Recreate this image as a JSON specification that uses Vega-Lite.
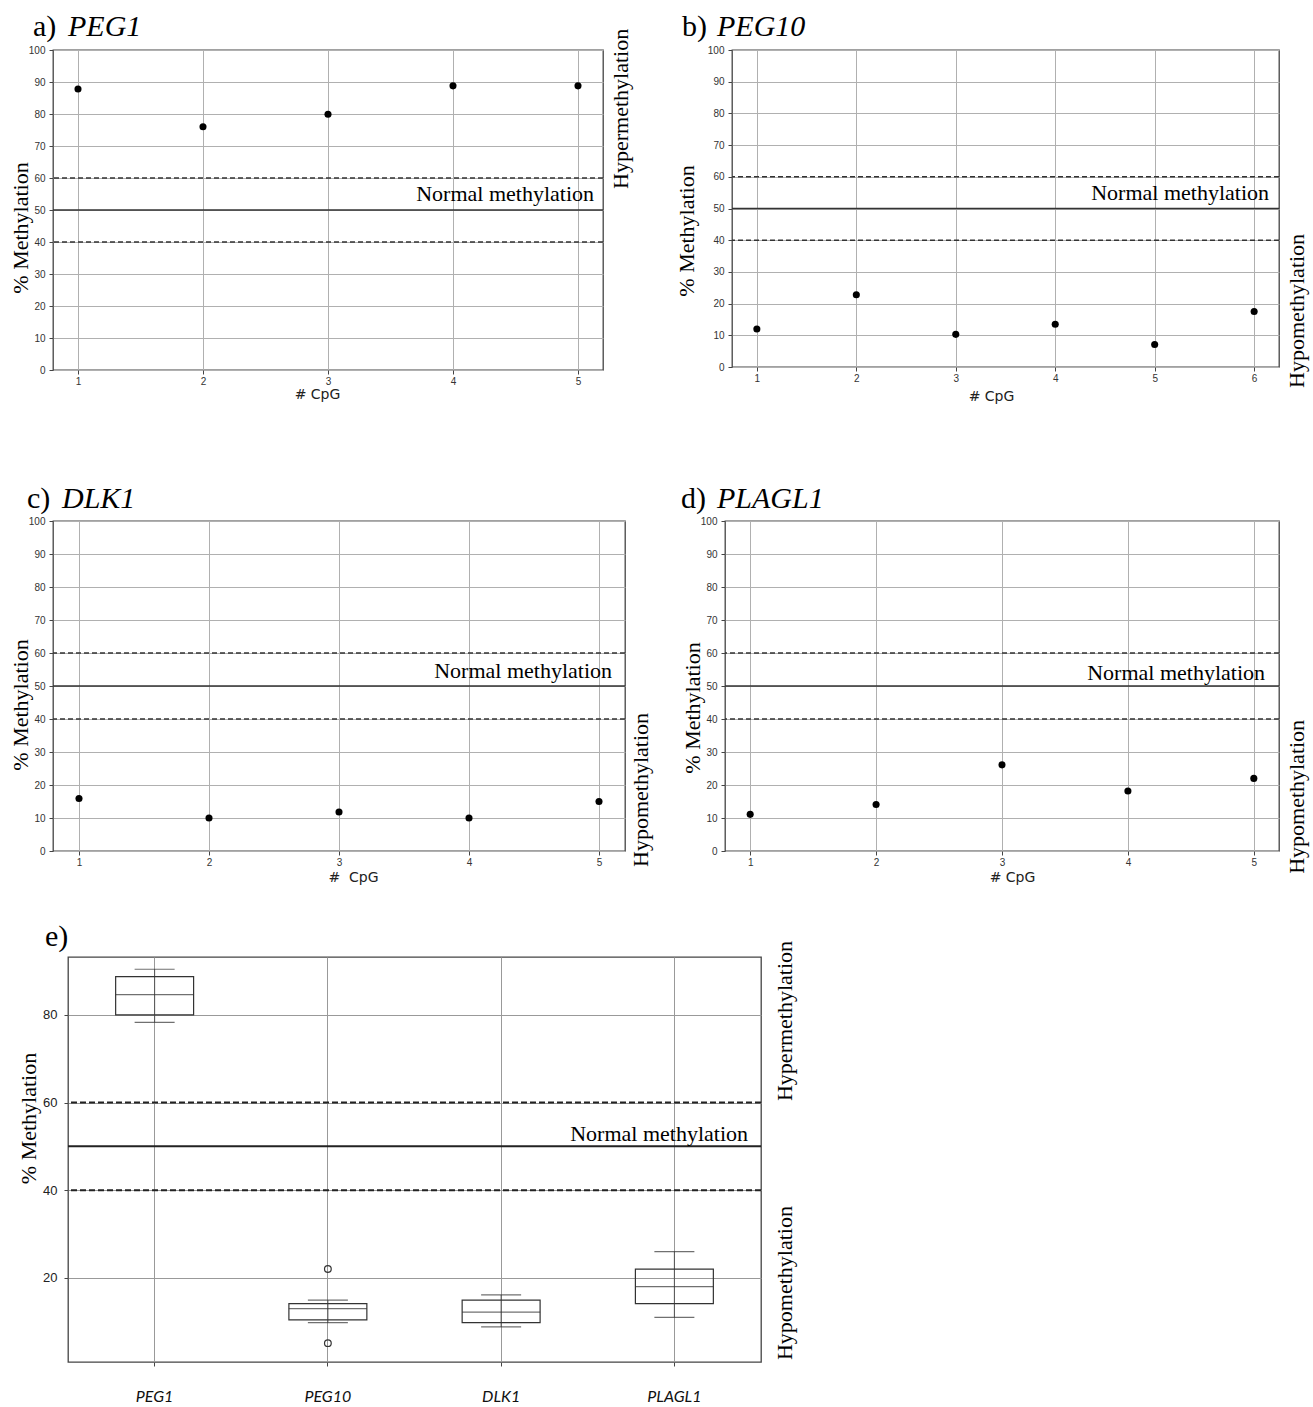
{
  "$schema": "https://vega.github.io/schema/vega-lite/v6.json",
  "padding": {"left": 8, "top": 11, "right": 5, "bottom": 5},
  "background": "white",
  "config": {
    "view": {"stroke": "#444", "strokeWidth": 1.3},
    "axis": {"domain": false, "grid": true, "gridColor": "#b0b0b0", "gridWidth": 1, "tickColor": "#444", "tickSize": 4, "labelFont": "Liberation Sans", "labelFontSize": 10, "labelColor": "#333", "labelFlush": false, "labelOverlap": false, "titleFont": "Liberation Serif", "titleFontSize": 22, "titleFontWeight": "normal", "titleColor": "#000"},
    "axisX": {"labelPadding": 2, "titleFont": "DejaVu Sans", "titleFontSize": 14, "titleColor": "#222", "labelAngle": 0},
    "axisY": {"labelPadding": 4},
    "text": {"font": "Liberation Serif", "color": "#000"}
  },
  "datasets": {
    "eBoxes": [
      {"gene": "PEG1", "lower": 78.3, "q1": 80.0, "median": 84.6, "q3": 88.7, "upper": 90.4},
      {"gene": "PEG10", "lower": 9.8, "q1": 10.4, "median": 13.0, "q3": 14.1, "upper": 14.9},
      {"gene": "DLK1", "lower": 8.8, "q1": 9.8, "median": 12.2, "q3": 14.9, "upper": 16.1},
      {"gene": "PLAGL1", "lower": 11.0, "q1": 14.1, "median": 18.0, "q3": 22.0, "upper": 26.0}
    ],
    "eOutliers": [
      {"gene": "PEG10", "value": 22.0},
      {"gene": "PEG10", "value": 5.1}
    ]
  },
  "vconcat": [
    {
      "vconcat": [
        {
          "hconcat": [
            {
              "width": 550, "height": 320,
              "layer": [
                {
                  "data": {"values": [{"cpg": 1, "meth": 87.8}, {"cpg": 2, "meth": 76.0}, {"cpg": 3, "meth": 79.9}, {"cpg": 4, "meth": 88.8}, {"cpg": 5, "meth": 88.8}]},
                  "mark": {"type": "circle", "size": 50, "color": "#000", "opacity": 1},
                  "encoding": {
                    "x": {"field": "cpg", "type": "quantitative", "scale": {"domain": [0.8, 5.2], "nice": false, "zero": false}, "axis": {"values": [1, 2, 3, 4, 5], "format": "d", "title": "# CpG", "titleX": 264, "titleY": 28, "titleBaseline": "alphabetic", "titleAlign": "center"}},
                    "y": {"field": "meth", "type": "quantitative", "scale": {"domain": [0, 100], "nice": false, "zero": false}, "axis": {"values": [0, 10, 20, 30, 40, 50, 60, 70, 80, 90, 100], "tickCount": 11, "title": "% Methylation", "titleX": -33, "titleY": 177.5, "titleBaseline": "middle", "titleAlign": "center"}}
                  }
                },
                {"data": {"values": [{}]}, "mark": {"type": "rule", "color": "#333", "strokeWidth": 1.5, "strokeDash": [5, 3]}, "encoding": {"y": {"datum": 40}}},
                {"data": {"values": [{}]}, "mark": {"type": "rule", "color": "#333", "strokeWidth": 1.5, "strokeDash": [5, 3]}, "encoding": {"y": {"datum": 60}}},
                {"data": {"values": [{}]}, "mark": {"type": "rule", "color": "#333", "strokeWidth": 1.6}, "encoding": {"y": {"datum": 50}}},
                {"data": {"values": [{"label": "a)"}]}, "mark": {"type": "text", "fontSize": 30, "align": "left", "baseline": "alphabetic", "dx": -20, "dy": -14}, "encoding": {"x": {"datum": 0.8}, "y": {"datum": 100}, "text": {"field": "label"}}},
                {"data": {"values": [{"label": "PEG1"}]}, "mark": {"type": "text", "fontSize": 30, "fontStyle": "italic", "align": "left", "baseline": "alphabetic", "dx": 15, "dy": -14}, "encoding": {"x": {"datum": 0.8}, "y": {"datum": 100}, "text": {"field": "label"}}},
                {"data": {"values": [{"label": "Normal methylation"}]}, "mark": {"type": "text", "fontSize": 22, "align": "right", "baseline": "alphabetic", "dx": -9, "dy": -9}, "encoding": {"x": {"datum": 5.2}, "y": {"datum": 50}, "text": {"field": "label"}}},
                {"data": {"values": [{"label": "Hypermethylation"}]}, "mark": {"type": "text", "fontSize": 22, "angle": 270, "align": "center", "baseline": "middle", "dy": 18}, "encoding": {"x": {"datum": 5.2}, "y": {"datum": 81.6}, "text": {"field": "label"}}}
              ]
            },
            {
              "width": 547, "height": 317,
              "layer": [
                {
                  "data": {"values": [{"cpg": 1, "meth": 12.0}, {"cpg": 2, "meth": 22.8}, {"cpg": 3, "meth": 10.3}, {"cpg": 4, "meth": 13.5}, {"cpg": 5, "meth": 7.1}, {"cpg": 6, "meth": 17.5}]},
                  "mark": {"type": "circle", "size": 50, "color": "#000", "opacity": 1},
                  "encoding": {
                    "x": {"field": "cpg", "type": "quantitative", "scale": {"domain": [0.75, 6.25], "nice": false, "zero": false}, "axis": {"values": [1, 2, 3, 4, 5, 6], "format": "d", "title": "# CpG", "titleX": 259, "titleY": 33, "titleBaseline": "alphabetic", "titleAlign": "center"}},
                    "y": {"field": "meth", "type": "quantitative", "scale": {"domain": [0, 100], "nice": false, "zero": false}, "axis": {"values": [0, 10, 20, 30, 40, 50, 60, 70, 80, 90, 100], "tickCount": 11, "title": "% Methylation", "titleX": -46, "titleY": 180.5, "titleBaseline": "middle", "titleAlign": "center"}}
                  }
                },
                {"data": {"values": [{}]}, "mark": {"type": "rule", "color": "#333", "strokeWidth": 1.5, "strokeDash": [5, 3]}, "encoding": {"y": {"datum": 40}}},
                {"data": {"values": [{}]}, "mark": {"type": "rule", "color": "#333", "strokeWidth": 1.5, "strokeDash": [5, 3]}, "encoding": {"y": {"datum": 60}}},
                {"data": {"values": [{}]}, "mark": {"type": "rule", "color": "#333", "strokeWidth": 1.6}, "encoding": {"y": {"datum": 50}}},
                {"data": {"values": [{"label": "b)"}]}, "mark": {"type": "text", "fontSize": 30, "align": "left", "baseline": "alphabetic", "dx": -50, "dy": -14}, "encoding": {"x": {"datum": 0.75}, "y": {"datum": 100}, "text": {"field": "label"}}},
                {"data": {"values": [{"label": "PEG10"}]}, "mark": {"type": "text", "fontSize": 30, "fontStyle": "italic", "align": "left", "baseline": "alphabetic", "dx": -15, "dy": -14}, "encoding": {"x": {"datum": 0.75}, "y": {"datum": 100}, "text": {"field": "label"}}},
                {"data": {"values": [{"label": "Normal methylation"}]}, "mark": {"type": "text", "fontSize": 22, "align": "right", "baseline": "alphabetic", "dx": -10, "dy": -9}, "encoding": {"x": {"datum": 6.25}, "y": {"datum": 50}, "text": {"field": "label"}}},
                {"data": {"values": [{"label": "Hypomethylation"}]}, "mark": {"type": "text", "fontSize": 22, "angle": 270, "align": "center", "baseline": "middle", "dy": 18}, "encoding": {"x": {"datum": 6.25}, "y": {"datum": 17.7}, "text": {"field": "label"}}}
              ]
            }
          ],
          "spacing": 129,
          "bounds": "flush"
        },
        {
          "hconcat": [
            {
              "width": 572, "height": 330,
              "layer": [
                {
                  "data": {"values": [{"cpg": 1, "meth": 15.9}, {"cpg": 2, "meth": 10.0}, {"cpg": 3, "meth": 11.8}, {"cpg": 4, "meth": 10.0}, {"cpg": 5, "meth": 15.0}]},
                  "mark": {"type": "circle", "size": 50, "color": "#000", "opacity": 1},
                  "encoding": {
                    "x": {"field": "cpg", "type": "quantitative", "scale": {"domain": [0.8, 5.2], "nice": false, "zero": false}, "axis": {"values": [1, 2, 3, 4, 5], "format": "d", "title": "#\u00a0 CpG", "titleX": 300, "titleY": 30, "titleBaseline": "alphabetic", "titleAlign": "center"}},
                    "y": {"field": "meth", "type": "quantitative", "scale": {"domain": [0, 100], "nice": false, "zero": false}, "axis": {"values": [0, 10, 20, 30, 40, 50, 60, 70, 80, 90, 100], "tickCount": 11, "title": "% Methylation", "titleX": -33, "titleY": 183.5, "titleBaseline": "middle", "titleAlign": "center"}}
                  }
                },
                {"data": {"values": [{}]}, "mark": {"type": "rule", "color": "#333", "strokeWidth": 1.5, "strokeDash": [5, 3]}, "encoding": {"y": {"datum": 40}}},
                {"data": {"values": [{}]}, "mark": {"type": "rule", "color": "#333", "strokeWidth": 1.5, "strokeDash": [5, 3]}, "encoding": {"y": {"datum": 60}}},
                {"data": {"values": [{}]}, "mark": {"type": "rule", "color": "#333", "strokeWidth": 1.6}, "encoding": {"y": {"datum": 50}}},
                {"data": {"values": [{"label": "c)"}]}, "mark": {"type": "text", "fontSize": 30, "align": "left", "baseline": "alphabetic", "dx": -26, "dy": -13}, "encoding": {"x": {"datum": 0.8}, "y": {"datum": 100}, "text": {"field": "label"}}},
                {"data": {"values": [{"label": "DLK1"}]}, "mark": {"type": "text", "fontSize": 30, "fontStyle": "italic", "align": "left", "baseline": "alphabetic", "dx": 9, "dy": -13}, "encoding": {"x": {"datum": 0.8}, "y": {"datum": 100}, "text": {"field": "label"}}},
                {"data": {"values": [{"label": "Normal methylation"}]}, "mark": {"type": "text", "fontSize": 22, "align": "right", "baseline": "alphabetic", "dx": -13, "dy": -8}, "encoding": {"x": {"datum": 5.2}, "y": {"datum": 50}, "text": {"field": "label"}}},
                {"data": {"values": [{"label": "Hypomethylation"}]}, "mark": {"type": "text", "fontSize": 22, "angle": 270, "align": "center", "baseline": "middle", "dy": 16}, "encoding": {"x": {"datum": 5.2}, "y": {"datum": 18.5}, "text": {"field": "label"}}}
              ]
            },
            {
              "width": 554, "height": 330,
              "layer": [
                {
                  "data": {"values": [{"cpg": 1, "meth": 11.1}, {"cpg": 2, "meth": 14.1}, {"cpg": 3, "meth": 26.1}, {"cpg": 4, "meth": 18.2}, {"cpg": 5, "meth": 22.0}]},
                  "mark": {"type": "circle", "size": 50, "color": "#000", "opacity": 1},
                  "encoding": {
                    "x": {"field": "cpg", "type": "quantitative", "scale": {"domain": [0.8, 5.2], "nice": false, "zero": false}, "axis": {"values": [1, 2, 3, 4, 5], "format": "d", "title": "# CpG", "titleX": 287, "titleY": 30, "titleBaseline": "alphabetic", "titleAlign": "center"}},
                    "y": {"field": "meth", "type": "quantitative", "scale": {"domain": [0, 100], "nice": false, "zero": false}, "axis": {"values": [0, 10, 20, 30, 40, 50, 60, 70, 80, 90, 100], "tickCount": 11, "title": "% Methylation", "titleX": -33, "titleY": 186.5, "titleBaseline": "middle", "titleAlign": "center"}}
                  }
                },
                {"data": {"values": [{}]}, "mark": {"type": "rule", "color": "#333", "strokeWidth": 1.5, "strokeDash": [5, 3]}, "encoding": {"y": {"datum": 40}}},
                {"data": {"values": [{}]}, "mark": {"type": "rule", "color": "#333", "strokeWidth": 1.5, "strokeDash": [5, 3]}, "encoding": {"y": {"datum": 60}}},
                {"data": {"values": [{}]}, "mark": {"type": "rule", "color": "#333", "strokeWidth": 1.6}, "encoding": {"y": {"datum": 50}}},
                {"data": {"values": [{"label": "d)"}]}, "mark": {"type": "text", "fontSize": 30, "align": "left", "baseline": "alphabetic", "dx": -44, "dy": -13}, "encoding": {"x": {"datum": 0.8}, "y": {"datum": 100}, "text": {"field": "label"}}},
                {"data": {"values": [{"label": "PLAGL1"}]}, "mark": {"type": "text", "fontSize": 30, "fontStyle": "italic", "align": "left", "baseline": "alphabetic", "dx": -8, "dy": -13}, "encoding": {"x": {"datum": 0.8}, "y": {"datum": 100}, "text": {"field": "label"}}},
                {"data": {"values": [{"label": "Normal methylation"}]}, "mark": {"type": "text", "fontSize": 22, "align": "right", "baseline": "alphabetic", "dx": -14, "dy": -6}, "encoding": {"x": {"datum": 5.2}, "y": {"datum": 50}, "text": {"field": "label"}}},
                {"data": {"values": [{"label": "Hypomethylation"}]}, "mark": {"type": "text", "fontSize": 22, "angle": 270, "align": "center", "baseline": "middle", "dy": 18}, "encoding": {"x": {"datum": 5.2}, "y": {"datum": 16.4}, "text": {"field": "label"}}}
              ]
            }
          ],
          "spacing": 100,
          "bounds": "flush"
        }
      ],
      "spacing": 79
    },
    {
      "hconcat": [
        {
          "width": 15, "height": 10,
          "data": {"values": []},
          "mark": "point",
          "view": {"stroke": null}
        },
        {
          "width": 693, "height": 405,
          "layer": [
            {
              "data": {"name": "eBoxes"},
              "mark": {"type": "rule", "color": "#555", "strokeWidth": 1},
              "encoding": {
                "x": {"field": "gene", "type": "nominal", "scale": {"domain": ["PEG1", "PEG10", "DLK1", "PLAGL1"], "paddingInner": 0, "paddingOuter": 0}, "axis": {"title": null, "labelAngle": 0, "labelFont": "Lato", "labelFontStyle": "italic", "labelFontSize": 16, "labelColor": "#111", "labelPadding": 22, "gridColor": "#999"}},
                "y": {"field": "lower", "type": "quantitative", "scale": {"domain": [0.8, 93.2], "nice": false, "zero": false}, "axis": {"values": [20, 40, 60, 80], "title": "% Methylation", "titleX": -40, "titleY": 161, "titleBaseline": "middle", "titleAlign": "center", "labelFontSize": 13, "labelColor": "#222", "labelPadding": 7, "gridColor": "#999"}},
                "y2": {"field": "upper"}
              }
            },
            {"data": {"values": [{}]}, "mark": {"type": "rule", "color": "#222", "strokeWidth": 2, "strokeDash": [6, 3]}, "encoding": {"y": {"datum": 40}}},
            {"data": {"values": [{}]}, "mark": {"type": "rule", "color": "#222", "strokeWidth": 2, "strokeDash": [6, 3]}, "encoding": {"y": {"datum": 60}}},
            {"data": {"values": [{}]}, "mark": {"type": "rule", "color": "#222", "strokeWidth": 2}, "encoding": {"y": {"datum": 50}}},
            {
              "data": {"name": "eBoxes"},
              "mark": {"type": "bar", "filled": false, "color": "#333", "strokeWidth": 1.2, "width": {"band": 0.45}},
              "encoding": {"x": {"field": "gene", "type": "nominal"}, "y": {"field": "q1", "type": "quantitative"}, "y2": {"field": "q3"}}
            },
            {
              "data": {"name": "eBoxes"},
              "mark": {"type": "tick", "color": "#333", "size": 78, "thickness": 1.2},
              "encoding": {"x": {"field": "gene", "type": "nominal"}, "y": {"field": "median", "type": "quantitative"}}
            },
            {
              "data": {"name": "eBoxes"},
              "mark": {"type": "tick", "color": "#333", "size": 40, "thickness": 1.2},
              "encoding": {"x": {"field": "gene", "type": "nominal"}, "y": {"field": "lower", "type": "quantitative"}}
            },
            {
              "data": {"name": "eBoxes"},
              "mark": {"type": "tick", "color": "#333", "size": 40, "thickness": 1.2},
              "encoding": {"x": {"field": "gene", "type": "nominal"}, "y": {"field": "upper", "type": "quantitative"}}
            },
            {
              "data": {"name": "eOutliers"},
              "mark": {"type": "point", "filled": false, "color": "#333", "size": 45, "strokeWidth": 1.2, "opacity": 1},
              "encoding": {"x": {"field": "gene", "type": "nominal"}, "y": {"field": "value", "type": "quantitative"}}
            },
            {"data": {"values": [{"label": "e)"}]}, "mark": {"type": "text", "fontSize": 30, "align": "left", "baseline": "alphabetic", "dx": -23, "dy": -11}, "encoding": {"x": {"datum": "PEG1", "type": "nominal", "bandPosition": 0}, "y": {"datum": 93.2}, "text": {"field": "label"}}},
            {"data": {"values": [{"label": "Normal methylation"}]}, "mark": {"type": "text", "fontSize": 22, "align": "right", "baseline": "alphabetic", "dx": -13, "dy": -5}, "encoding": {"x": {"datum": "PLAGL1", "type": "nominal", "bandPosition": 1}, "y": {"datum": 50}, "text": {"field": "label"}}},
            {"data": {"values": [{"label": "Hypermethylation"}]}, "mark": {"type": "text", "fontSize": 22, "angle": 270, "align": "center", "baseline": "middle", "dy": 24}, "encoding": {"x": {"datum": "PLAGL1", "type": "nominal", "bandPosition": 1}, "y": {"datum": 78.6}, "text": {"field": "label"}}},
            {"data": {"values": [{"label": "Hypomethylation"}]}, "mark": {"type": "text", "fontSize": 22, "angle": 270, "align": "center", "baseline": "middle", "dy": 24}, "encoding": {"x": {"datum": "PLAGL1", "type": "nominal", "bandPosition": 1}, "y": {"datum": 18.8}, "text": {"field": "label"}}}
          ]
        }
      ],
      "spacing": 0,
      "bounds": "flush"
    }
  ],
  "spacing": 36
}
